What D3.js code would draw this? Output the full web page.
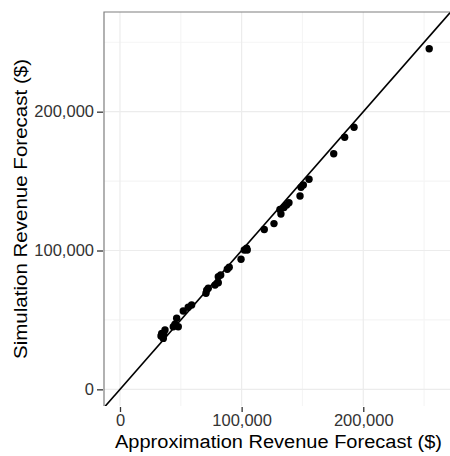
<!DOCTYPE html>
<html>
<head>
<meta charset="utf-8">
<script src="https://cdn.jsdelivr.net/npm/d3@7"></script>
<style>
  body { margin: 0; background: #fff; }
  svg text { font-family: "Liberation Sans", Arial, sans-serif; }
</style>
</head>
<body>
<script>
// revenue forecasts ($)
const approx = [254200, 192400, 184700, 175700, 155400, 150700, 148800, 148000,
  138900, 137000, 134800, 131500, 132300, 126600, 118600, 104100, 102200, 104600,
  99500, 89800, 88200, 82800, 80800, 80800, 78100, 72600, 70700, 71300,
  58900, 56100, 52000, 46600, 45200, 43800, 47900, 37000, 34300, 35600, 33700, 36000];
const simulated = [245300, 188800, 181600, 169700, 151300, 147200, 145500, 139300,
  134400, 132800, 131000, 129500, 126300, 119400, 115100, 101600, 100400, 100400,
  93700, 87900, 86500, 82400, 81100, 76800, 75100, 72800, 69200, 71500,
  60700, 59100, 56400, 51200, 47000, 45100, 45100, 42700, 40300, 36700, 38400, 39500];
const majorTicks = [0, 100000, 200000];
const minorTicks = [50000, 150000, 250000];

const W = 450, H = 456;
const panel = { left: 104, top: 12, right: 450, bottom: 406 };

const svg = d3.select('body').append('svg')
  .attr('width', W)
  .attr('height', H);

//scales
const x = d3.scaleLinear().domain([-13150, 271300]).range([panel.left, panel.right]);
const y = d3.scaleLinear().domain([-12000, 271800]).range([panel.bottom, panel.top]);

//grid lines, minor first then major
const grid = svg.append('g');
grid.selectAll('.vminor').data(minorTicks).enter().append('line')
  .attr('x1', (d) => x(d)).attr('x2', (d) => x(d))
  .attr('y1', panel.top).attr('y2', panel.bottom)
  .style('stroke', '#f5f5f5').style('stroke-width', 1.2);
grid.selectAll('.hminor').data(minorTicks).enter().append('line')
  .attr('y1', (d) => y(d)).attr('y2', (d) => y(d))
  .attr('x1', panel.left).attr('x2', panel.right)
  .style('stroke', '#f5f5f5').style('stroke-width', 1.2);
grid.selectAll('.vmajor').data(majorTicks).enter().append('line')
  .attr('x1', (d) => x(d)).attr('x2', (d) => x(d))
  .attr('y1', panel.top).attr('y2', panel.bottom)
  .style('stroke', '#ececec').style('stroke-width', 1.2);
grid.selectAll('.hmajor').data(majorTicks).enter().append('line')
  .attr('y1', (d) => y(d)).attr('y2', (d) => y(d))
  .attr('x1', panel.left).attr('x2', panel.right)
  .style('stroke', '#ececec').style('stroke-width', 1.2);

//identity line y = x, clipped to the panel
svg.append('clipPath').attr('id', 'clip').append('rect')
  .attr('x', panel.left).attr('y', panel.top)
  .attr('width', panel.right - panel.left).attr('height', panel.bottom - panel.top);
svg.append('line')
  .attr('clip-path', 'url(#clip)')
  .attr('x1', x(-20000)).attr('y1', y(-20000))
  .attr('x2', x(300000)).attr('y2', y(300000))
  .style('stroke', '#000').style('stroke-width', 1.6);

//points
svg.selectAll('circle')
  .data(approx)
  .enter()
  .append('circle')
  .attr('cx', (d) => x(d))
  .attr('cy', (d, i) => y(simulated[i]))
  .attr('r', 3.7)
  .style('fill', '#000');

//panel border (top and left)
svg.append('path')
  .attr('d', `M${panel.right},${panel.top}H${panel.left}V${panel.bottom}`)
  .style('fill', 'none').style('stroke', '#7f7f7f').style('stroke-width', 1.2);

//axes
const fmt = d3.format(',');
const xAxis = d3.axisBottom(x).tickValues(majorTicks).tickFormat(fmt).tickSize(5).tickPadding(2);
const yAxis = d3.axisLeft(y).tickValues(majorTicks).tickFormat(fmt).tickSize(6).tickPadding(3);
const gx = svg.append('g').attr('transform', `translate(0, ${panel.bottom + 1})`).call(xAxis);
const gy = svg.append('g').attr('transform', `translate(${panel.left - 1}, 0)`).call(yAxis);
[gx, gy].forEach((g) => {
  g.select('.domain').remove();
  g.selectAll('.tick line').style('stroke', '#333').style('stroke-width', 1.3);
  g.selectAll('.tick text').style('font-size', '16.5px').style('fill', '#333')
    .style('font-family', '"Liberation Sans", Arial, sans-serif');
});

//axis titles
svg.append('text')
  .attr('x', 278.5)
  .attr('y', 448)
  .attr('text-anchor', 'middle')
  .attr('textLength', 327)
  .attr('lengthAdjust', 'spacingAndGlyphs')
  .style('font-size', '18px')
  .text('Approximation Revenue Forecast ($)');
svg.append('text')
  .attr('transform', `translate(27, ${(panel.top + panel.bottom) / 2}) rotate(-90)`)
  .attr('text-anchor', 'middle')
  .attr('textLength', 300)
  .attr('lengthAdjust', 'spacingAndGlyphs')
  .style('font-size', '18px')
  .text('Simulation Revenue Forecast ($)');
</script>
</body>
</html>
